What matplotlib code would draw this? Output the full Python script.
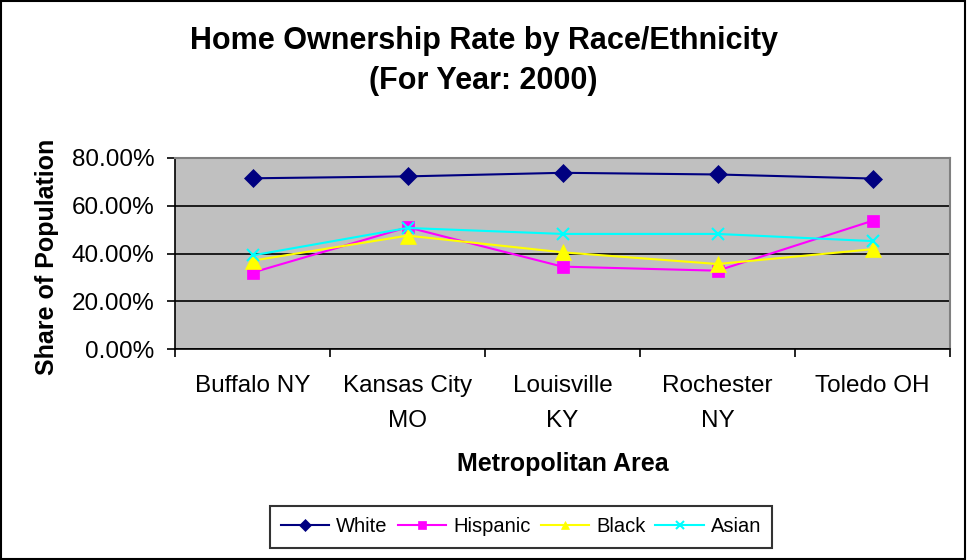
import numpy as np
import matplotlib.pyplot as plt
from matplotlib.patches import Rectangle
from matplotlib.ticker import FuncFormatter

plt.rcParams['font.family'] = ['Liberation Sans', 'DejaVu Sans']

# data
areas = ["Buffalo NY", "Kansas City\nMO", "Louisville\nKY", "Rochester\nNY", "Toledo OH"]
white = [71.5, 72.3, 73.8, 73.1, 71.4]
hispanic = [32.0, 51.0, 34.5, 32.8, 53.7]
black = [37.0, 47.5, 40.5, 35.6, 41.8]
asian = [39.2, 50.7, 48.2, 48.2, 45.2]

series = [
    ("White", white, "#000080", "D", 9),
    ("Hispanic", hispanic, "#FF00FF", "s", 9),
    ("Black", black, "#FFFF00", "^", 11),
    ("Asian", asian, "#00FFFF", "x", 9),
]

fig = plt.figure(figsize=(9.67, 5.60), dpi=100)
ax = fig.add_axes([175/967, 1 - 349/560, 775/967, 191/560])
ax.set_facecolor("#C0C0C0")

x = np.arange(len(areas))
for name, vals, col, mk, ms in series:
    ax.plot(x, vals, color=col, marker=mk, markersize=ms, lw=1.5,
            markeredgewidth=1.5 if mk == "x" else 0.5, markeredgecolor=col,
            label=name)

ax.set_xlim(-0.5, len(areas) - 0.5)
ax.set_ylim(0, 80)
ax.set_yticks([0, 20, 40, 60, 80])
ax.yaxis.set_major_formatter(FuncFormatter(lambda v, p: f"{v:.2f}%"))
ax.grid(axis="y", color="black", lw=1.2)
ax.set_axisbelow(True)

# category ticks sit between categories
ax.set_xticks(np.arange(len(areas) + 1) - 0.5)
ax.set_xticklabels([])
ax.set_xticks(x, minor=True)
ax.set_xticklabels(areas, minor=True, fontsize=17.5, linespacing=1.75)
ax.tick_params(axis="x", which="minor", length=0, pad=19)
ax.tick_params(axis="x", which="major", direction="out", length=6, width=1.2)
ax.tick_params(axis="y", direction="out", length=6, width=1.2, labelsize=17.5, pad=9)

for s in ["top", "right"]:
    ax.spines[s].set_color("#808080")
    ax.spines[s].set_linewidth(1.5)
for s in ["left", "bottom"]:
    ax.spines[s].set_color("black")
    ax.spines[s].set_linewidth(1.2)

fig.text(0.5, 1 - 61/560, "Home Ownership Rate by Race/Ethnicity\n(For Year: 2000)",
         ha="center", va="center", fontsize=22, fontweight="bold", linespacing=1.4)
fig.text(47/967, 1 - 257/560, "Share of Population", rotation=90, ha="center",
         va="center", fontsize=18, fontweight="bold")
fig.text(0.5 * (175 + 950) / 967, 1 - 464/560, "Metropolitan Area", ha="center",
         va="center", fontsize=18, fontweight="bold")

leg = fig.legend(loc="center", bbox_to_anchor=(521/967, 1 - 527/560), ncol=4,
                 fontsize=14.5, frameon=True, fancybox=False, edgecolor="black",
                 handlelength=2.4, handletextpad=0.35, columnspacing=0.5,
                 borderpad=0.55)
leg.get_frame().set_linewidth(1.5)
for h in leg.legend_handles:
    h.set_markersize(6)

fig.patches.append(Rectangle((0.001, 0.001), 0.997, 0.997, transform=fig.transFigure,
                             fill=False, edgecolor="black", lw=1.5))

fig.savefig("out.png", dpi=100)
